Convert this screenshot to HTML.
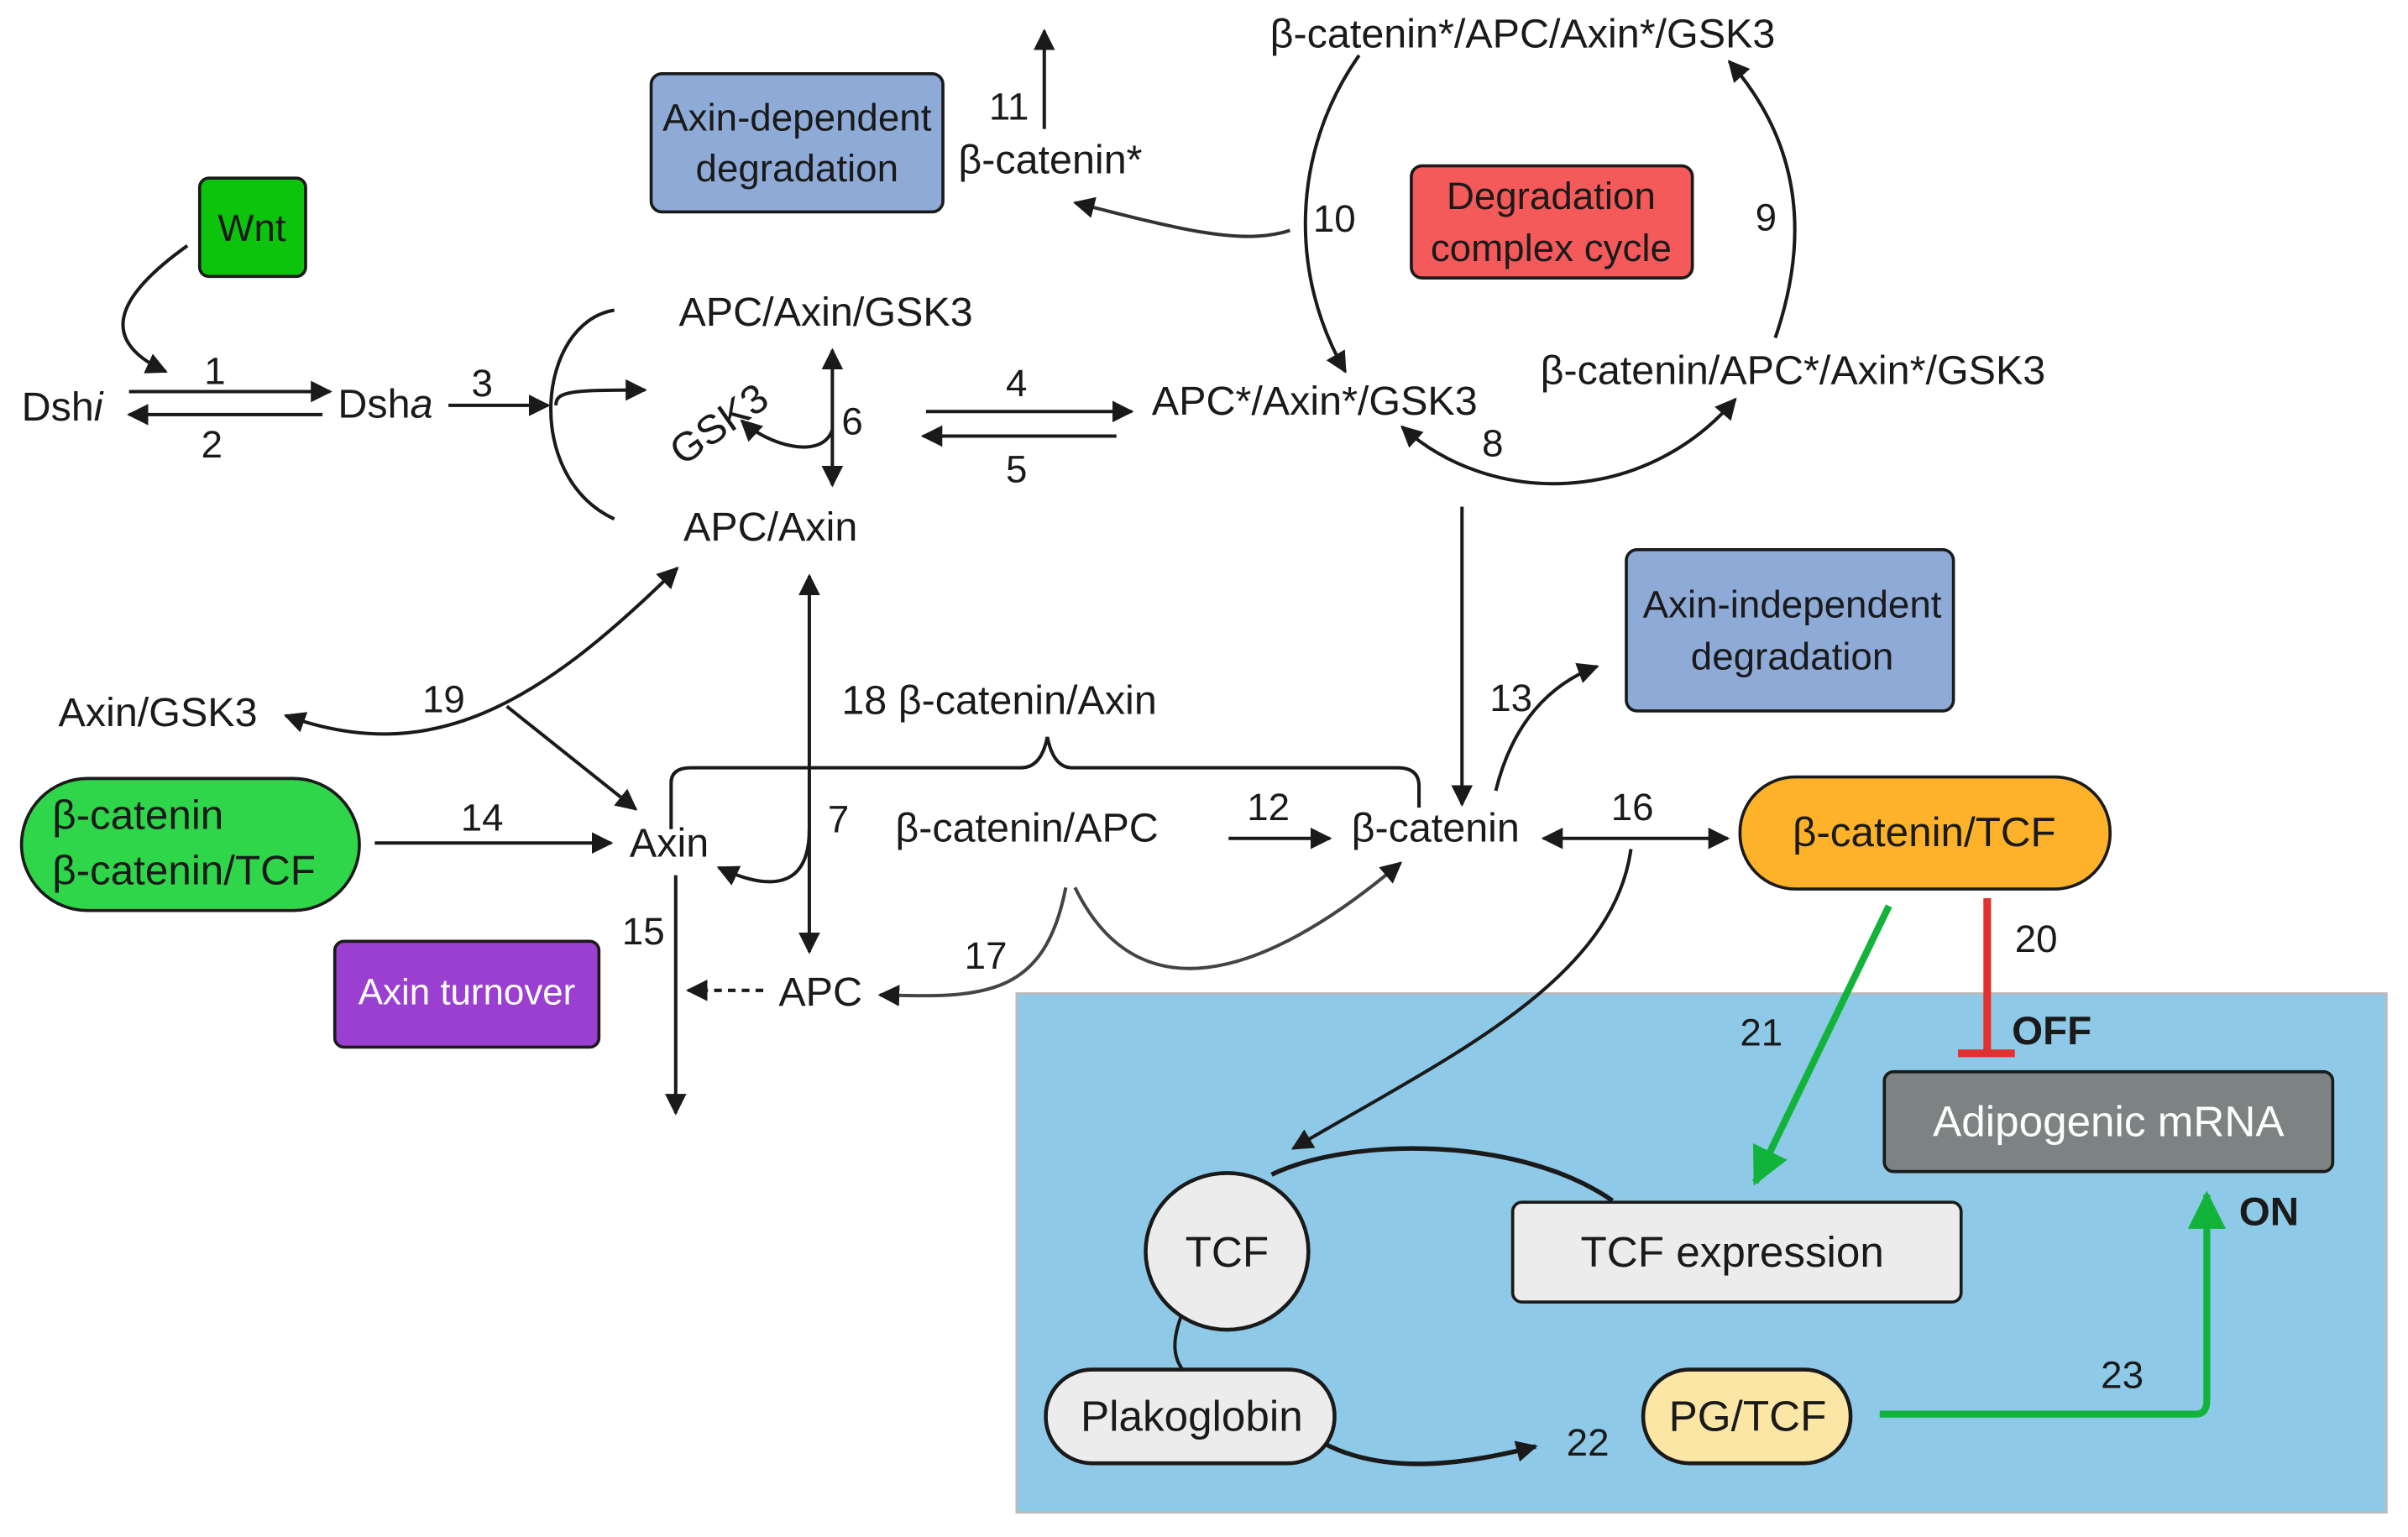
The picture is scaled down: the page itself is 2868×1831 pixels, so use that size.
<!DOCTYPE html>
<html><head><meta charset="utf-8"><style>
html,body{margin:0;padding:0;background:#fff}
svg{display:block}
text{font-family:"Liberation Sans",sans-serif;fill:#1a1a1a}
</style></head><body>
<svg width="2868" height="1831" viewBox="0 0 1568 1001" xmlns="http://www.w3.org/2000/svg">
<defs>
<marker id="ab" viewBox="0 0 10 10" refX="9" refY="5" markerWidth="14" markerHeight="14" markerUnits="userSpaceOnUse" orient="auto-start-reverse"><path d="M0,0 L10,5 L0,10 z" fill="#1a1a1a"/></marker>
<marker id="g" viewBox="0 0 10 10" refX="9" refY="5" markerWidth="5.5" markerHeight="5.5" orient="auto"><path d="M0,0 L10,5 L0,10 z" fill="#12b33a"/></marker>
</defs>
<rect x="662" y="647" width="892" height="338" fill="#8ecae8" stroke="#bbb" stroke-width="1.5"/>

<g stroke="#1a1a1a" fill="none" stroke-width="2.2">
<path d="M122,160 C80,190 60,220 108,242" marker-end="url(#ab)"/>
<path d="M84,255 L215,255" marker-end="url(#ab)"/>
<path d="M210,270 L84,270" marker-end="url(#ab)"/>
<path d="M292,264 L357,264" marker-end="url(#ab)"/>
<path d="M400,202 C350,210 340,310 400,338"/>
<path d="M362,264 C362,255 370,254 420,254" marker-end="url(#ab)"/>
<path d="M542,228 L542,316" marker-start="url(#ab)" marker-end="url(#ab)"/>
<path d="M542,280 C535,300 500,290 483,274" marker-end="url(#ab)"/>
<path d="M603,268 L737,268" marker-end="url(#ab)"/>
<path d="M727,284 L601,284" marker-end="url(#ab)"/>
<path d="M885,36 C840,100 840,180 876,242" marker-end="url(#ab)"/>
<path d="M1156,220 C1180,150 1170,90 1126,40" marker-end="url(#ab)"/>
<path d="M1130,260 C1070,330 970,330 913,278" marker-start="url(#ab)" marker-end="url(#ab)"/>
<path d="M840,150 C810,160 770,150 700,132" marker-end="url(#ab)" stroke="#333"/>
<path d="M680,84 L680,20" marker-end="url(#ab)"/>
<path d="M952,330 L952,524" marker-end="url(#ab)"/>
<path d="M974,515 C985,470 1010,445 1040,434" marker-end="url(#ab)"/>
<path d="M437,540 L437,510 Q437,500 450,500 L665,500 Q678,500 682,480 Q686,500 698,500 L910,500 Q924,500 924,512 L924,526"/>
<path d="M527,375 L527,620" marker-start="url(#ab)" marker-end="url(#ab)"/>
<path d="M527,540 C527,580 500,580 468,565" marker-end="url(#ab)"/>
<path d="M186,466 C280,500 350,460 441,370" marker-start="url(#ab)" marker-end="url(#ab)"/>
<path d="M330,460 L414,527" marker-end="url(#ab)"/>
<path d="M244,549 L398,549" marker-end="url(#ab)"/>
<path d="M440,570 L440,725" marker-end="url(#ab)"/>
<path d="M497,645 L448,645" stroke-dasharray="5,4" marker-end="url(#ab)"/>
<path d="M694,578 C680,650 640,650 573,648" marker-end="url(#ab)" stroke="#444"/>
<path d="M700,578 C740,660 820,640 912,562" marker-end="url(#ab)" stroke="#444"/>
<path d="M800,546 L866,546" marker-end="url(#ab)"/>
<path d="M1005,546 L1125,546" marker-start="url(#ab)" marker-end="url(#ab)"/>
<path d="M1062,553 C1050,640 940,690 842,748" marker-end="url(#ab)"/>
<path d="M1050,782 C990,740 880,740 828,765" stroke-width="3"/>
<path d="M770,855 C762,875 765,885 770,892"/>
<path d="M862,940 C900,960 950,955 1000,942" stroke-width="3" marker-end="url(#ab)"/>
</g>
<path d="M1230,590 L1143,770" stroke="#12b33a" stroke-width="4.5" fill="none" marker-end="url(#g)"/>
<path d="M1224,921 L1430,921 Q1437,921 1437,912 L1437,778" stroke="#12b33a" stroke-width="4.5" fill="none" marker-end="url(#g)"/>
<path d="M1294,585 L1294,685 M1275,686 L1312,686" stroke="#e03030" stroke-width="5" fill="none"/>

<rect x="130" y="116" width="69" height="64" rx="6" fill="#0cc40c" stroke="#1a1a1a" stroke-width="2"/>
<text x="164" y="157" font-size="25" text-anchor="middle">Wnt</text>
<rect x="424" y="48" width="190" height="90" rx="7" fill="#8eaad6" stroke="#1a1a1a" stroke-width="2"/>
<text x="519" y="85" font-size="25" text-anchor="middle">Axin-dependent</text>
<text x="519" y="118" font-size="25" text-anchor="middle">degradation</text>
<rect x="919" y="108" width="183" height="73" rx="7" fill="#f45a5a" stroke="#1a1a1a" stroke-width="2"/>
<text x="1010" y="136" font-size="25" text-anchor="middle">Degradation</text>
<text x="1010" y="170" font-size="25" text-anchor="middle">complex cycle</text>
<rect x="1059" y="358" width="213" height="105" rx="7" fill="#8eaad6" stroke="#1a1a1a" stroke-width="2"/>
<text x="1167" y="402" font-size="25" text-anchor="middle">Axin-independent</text>
<text x="1167" y="436" font-size="25" text-anchor="middle">degradation</text>
<rect x="14" y="507" width="220" height="86" rx="43" fill="#2fd64a" stroke="#1a1a1a" stroke-width="2"/>
<text x="34" y="540" font-size="27">β-catenin</text>
<text x="34" y="576" font-size="27">β-catenin/TCF</text>
<rect x="218" y="613" width="172" height="69" rx="6" fill="#9b3fd0" stroke="#1a1a1a" stroke-width="2"/>
<text x="304" y="654" font-size="24" text-anchor="middle" style="fill:#fff">Axin turnover</text>
<rect x="1133" y="506" width="241" height="73" rx="36" fill="#fdb22a" stroke="#1a1a1a" stroke-width="2"/>
<text x="1253" y="551" font-size="27" text-anchor="middle">β-catenin/TCF</text>
<rect x="1227" y="698" width="292" height="65" rx="6" fill="#7d8283" stroke="#1a1a1a" stroke-width="2"/>
<text x="1373" y="740" font-size="28" text-anchor="middle" style="fill:#fff">Adipogenic mRNA</text>
<ellipse cx="799" cy="815" rx="53" ry="51" fill="#ececec" stroke="#1a1a1a" stroke-width="2.5"/>
<text x="799" y="825" font-size="28" text-anchor="middle">TCF</text>
<rect x="985" y="783" width="292" height="65" rx="6" fill="#ececec" stroke="#1a1a1a" stroke-width="2"/>
<text x="1128" y="825" font-size="28" text-anchor="middle">TCF expression</text>
<rect x="681" y="892" width="188" height="61" rx="30" fill="#ececec" stroke="#1a1a1a" stroke-width="2.5"/>
<text x="776" y="932" font-size="28" text-anchor="middle">Plakoglobin</text>
<rect x="1070" y="892" width="135" height="61" rx="30" fill="#fbe6a6" stroke="#1a1a1a" stroke-width="2.5"/>
<text x="1138" y="932" font-size="28" text-anchor="middle">PG/TCF</text>

<g font-size="26.5">
<text x="14" y="274">Dsh<tspan font-style="italic">i</tspan></text>
<text x="220" y="272">Dsh<tspan font-style="italic">a</tspan></text>
<text x="442" y="212">APC/Axin/GSK3</text>
<text x="445" y="352">APC/Axin</text>
<text x="428" y="292" transform="rotate(-35 455 272)">GSK3</text>
<text x="750" y="270">APC*/Axin*/GSK3</text>
<text x="1003" y="250">β-catenin/APC*/Axin*/GSK3</text>
<text x="827" y="31">β-catenin*/APC/Axin*/GSK3</text>
<text x="624" y="113">β-catenin*</text>
<text x="38" y="473">Axin/GSK3</text>
<text x="548" y="465">18 β-catenin/Axin</text>
<text x="410" y="558">Axin</text>
<text x="583" y="548">β-catenin/APC</text>
<text x="880" y="548">β-catenin</text>
<text x="507" y="655">APC</text>
</g>
<g font-size="25">
<text x="133" y="250">1</text>
<text x="131" y="298">2</text>
<text x="307" y="258">3</text>
<text x="655" y="258">4</text>
<text x="655" y="314">5</text>
<text x="548" y="283">6</text>
<text x="539" y="542">7</text>
<text x="965" y="297">8</text>
<text x="1143" y="150">9</text>
<text x="855" y="151">10</text>
<text x="644" y="78">11</text>
<text x="812" y="534">12</text>
<text x="970" y="463">13</text>
<text x="300" y="541">14</text>
<text x="405" y="615">15</text>
<text x="1049" y="534">16</text>
<text x="628" y="631">17</text>
<text x="275" y="464">19</text>
<text x="1312" y="620">20</text>
<text x="1133" y="681">21</text>
<text x="1020" y="948">22</text>
<text x="1368" y="904">23</text>
</g>
<text x="1310" y="680" font-size="26" font-weight="bold">OFF</text>
<text x="1458" y="798" font-size="26" font-weight="bold">ON</text>
</svg>
</body></html>
